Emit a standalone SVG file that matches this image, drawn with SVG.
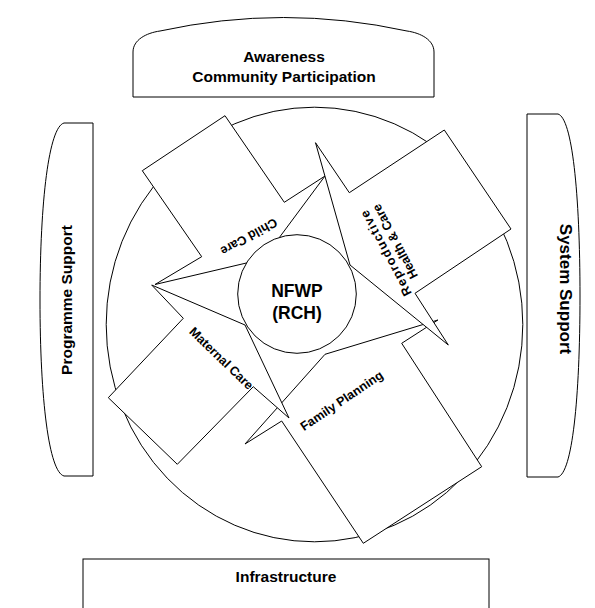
<svg xmlns="http://www.w3.org/2000/svg" width="595" height="608" viewBox="0 0 595 608">
<style>
.s{fill:#fff;stroke:#000;stroke-width:1;stroke-linejoin:miter}
.t{font-family:"Liberation Sans",Arial,sans-serif;font-weight:bold;fill:#000;text-anchor:middle}
.big{font-size:15.5px}
.mid{font-size:17.5px}
.sm{font-size:12.6px}
</style>
<rect width="595" height="608" fill="#fff"/>
<g id="awareness">
<path class="s" d="M133,97 V52 C133,40 146,33 160,31 Q283.5,4 407,31 C421,33 434,40 434,52 V97 Z"/>
<text class="t big" x="284" y="62">Awareness</text>
<text class="t big" x="284" y="82">Community Participation</text>
</g>
<g id="programme-support">
<path class="s" d="M93,123 V476 H64 C49,472 40,400 40,300 C40,200 49,127 64,123 Z"/>
<text class="t big" transform="translate(71.5,300) rotate(-90)">Programme Support</text>
</g>
<g id="system-support">
<path class="s" d="M527,114 V477 H558 C572,473 580,400 580,296 C580,192 572,118 558,114 Z"/>
<text class="t" style="font-size:17px" transform="translate(560,289) rotate(90)">System Support</text>
</g>
<g id="infrastructure">
<rect class="s" x="83" y="559" width="406" height="60"/>
<text class="t big" x="286" y="582">Infrastructure</text>
</g>
<g id="outer-circle">
<ellipse class="s" cx="314.5" cy="324.5" rx="208.3" ry="217.3"/>
</g>
<g id="family-planning">
<polygon class="s" points="245,444 281.7,421 363.3,543.3 481.7,466.7 401.7,343.3 437.9,320 325,354.3"/>
<text class="t sm" transform="translate(341.5,400.5) rotate(-34)" y="4.5">Family Planning</text>
</g>
<g id="child-care">
<polygon class="s" points="155,284.5 201.7,256.7 142.3,170.7 225,115.7 284.3,202.3 325,176 263.4,259"/>
<text class="t sm" transform="translate(249,237) rotate(151)" y="4.5">Child Care</text>
</g>
<g id="maternal-care">
<polygon class="s" points="151.7,285 183.3,318.3 108.3,397.7 177.3,464.3 253.3,386.7 289,418 245,325"/>
<text class="t sm" transform="translate(221.5,358.3) rotate(44)" y="4.5">Maternal Care</text>
</g>
<g id="reproductive-health">
<polygon class="s" points="315.5,142.7 349.3,192.7 444.3,130 511,229 415,293.3 448.3,345 350,265"/>
<text class="t sm" transform="translate(390.4,247.5) rotate(-118)"><tspan x="-3" y="-2.3" textLength="95" lengthAdjust="spacing">Reproductive</tspan><tspan x="3" y="11.3">Health &amp; Care</tspan></text>
</g>
<g id="nfwp">
<circle class="s" cx="297" cy="294" r="59.3"/>
<text class="t mid" x="297" y="296.5">NFWP</text>
<text class="t mid" x="297" y="318.5">(RCH)</text>
</g>
<g id="connectors"></g>
</svg>
